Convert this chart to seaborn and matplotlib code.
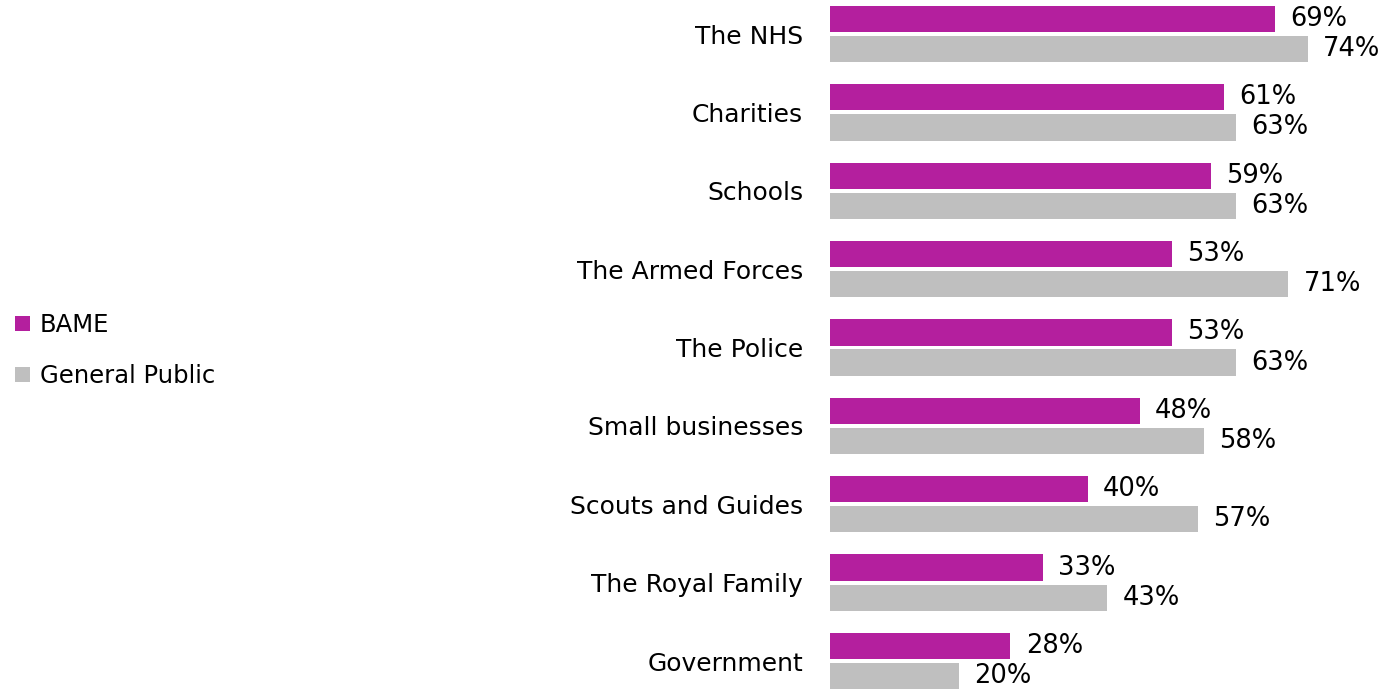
import pandas as pd
import seaborn as sns
import matplotlib.pyplot as plt
from matplotlib.patches import Patch

categories = ['The NHS', 'Charities', 'Schools', 'The Armed Forces', 'The Police',
              'Small businesses', 'Scouts and Guides', 'The Royal Family', 'Government']
bame = [69, 61, 59, 53, 53, 48, 40, 33, 28]
general_public = [74, 63, 63, 71, 63, 58, 57, 43, 20]
groups = ['BAME', 'General Public']
colors = ['#B41F9E', '#BFBFBF']

df = pd.DataFrame({
    'category': categories * 2,
    'value': bame + general_public,
    'group': [groups[0]] * len(categories) + [groups[1]] * len(categories),
})

sns.set_style('white')
plt.rcParams['font.family'] = ['DejaVu Sans']
plt.rcParams['text.color'] = 'black'
plt.rcParams['ytick.color'] = 'black'

fig = plt.figure(figsize=(13.85, 6.89), dpi=100)
ax = fig.add_axes([0.599, 0.0, 0.401, 1.0])

sns.barplot(data=df, y='category', x='value', hue='group', hue_order=groups,
            palette=colors, width=0.77, gap=0.13, orient='h', legend=False,
            saturation=1, linewidth=0, ax=ax)

for container, vals in zip(ax.containers, [bame, general_public]):
    ax.bar_label(container, labels=[f'{v}%' for v in vals], padding=11,
                 fontsize=18.5, color='black')

ax.set_xlim(0, 86)
ax.set_ylim(8.357, -0.434)
ax.set_xlabel('')
ax.set_ylabel('')
ax.set_xticks([])
ax.tick_params(axis='y', length=0, pad=19, labelsize=18, labelcolor='black')
for s in ax.spines.values():
    s.set_visible(False)

handles = [Patch(facecolor=c, edgecolor='none') for c in colors]
fig.legend(handles, groups, loc='center left', bbox_to_anchor=(0.011, 0.491),
           frameon=False, fontsize=17.5, handlelength=0.6, handleheight=0.6,
           handletextpad=0.4, labelspacing=1.1, borderaxespad=0, borderpad=0)

fig.savefig('out.png', dpi=100)
